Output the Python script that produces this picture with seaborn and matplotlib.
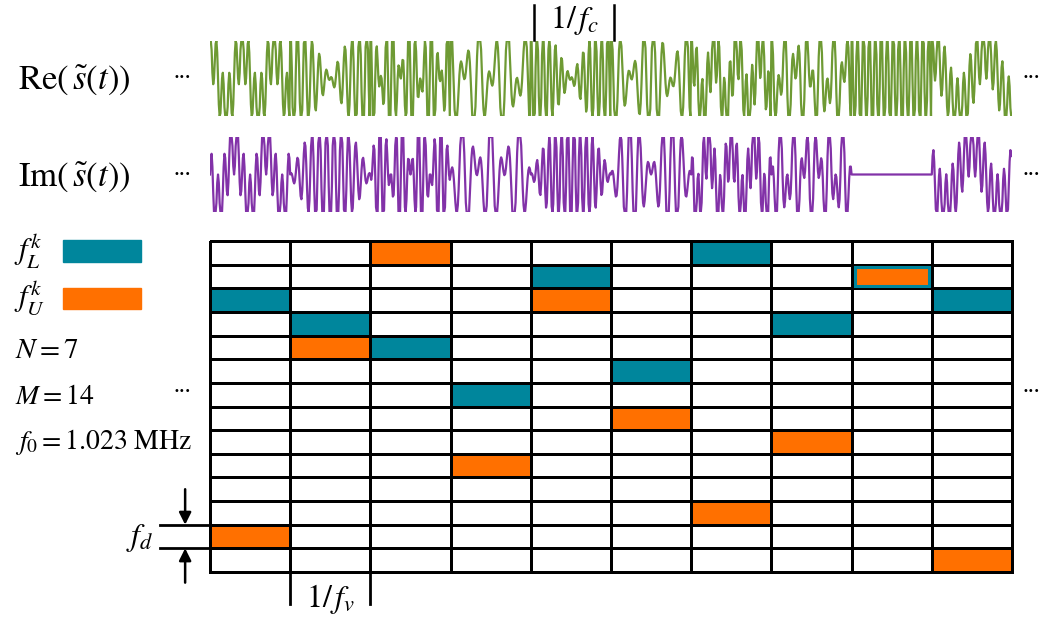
import numpy as np
import seaborn as sns
import matplotlib.pyplot as plt
from matplotlib.colors import ListedColormap
from matplotlib.patches import Rectangle

# Frequency slot (row, 0 = top) used in each of the 10 hop intervals
lower_rows = [2, 3, 4, 6, 1, 5, 0, 3, 1, 2]     # f_L^k
upper_rows = [12, 4, 0, 9, 2, 7, 11, 8, 1, 13]  # f_U^k
n_rows = 14
n_cols = 10
samples_per_col = 100
top_freq = 14.5   # cycles per interval for the top slot
clip_level = 1.25

teal = "#00869C"
orange = "#FF7000"
green = "#6E9A34"
purple = "#8232A8"

W, H = 1051, 619
fig = plt.figure(figsize=(W / 100, H / 100), dpi=100)
plt.rcParams["font.family"] = "Liberation Serif"
plt.rcParams["mathtext.fontset"] = "stix"


def fx(px):
    return px / W


def fy(py):
    return 1 - py / H


# complex signal built from the two slots of each interval
t = np.linspace(0, n_cols, n_cols * samples_per_col, endpoint=False)
k = np.floor(t).astype(int)
tau = t - k
fa = top_freq - np.array(lower_rows)[k]
fb = top_freq - np.array(upper_rows)[k]
s = np.exp(2j * np.pi * fa * tau) + np.exp(-2j * np.pi * fb * tau)
re = np.clip(s.real, -clip_level, clip_level)
im = np.clip(s.imag, -clip_level, clip_level)

left, width = fx(210), fx(1012) - fx(210)

ax_re = fig.add_axes([left, fy(116), width, fy(41) - fy(116)])
sns.lineplot(x=t, y=re, ax=ax_re, color=green, lw=1.6)
ax_im = fig.add_axes([left, fy(212), width, fy(137) - fy(212)])
sns.lineplot(x=t, y=im, ax=ax_im, color=purple, lw=1.6)
for ax in (ax_re, ax_im):
    ax.set_xlim(0, n_cols)
    ax.set_ylim(-clip_level, clip_level)
    ax.axis("off")

# 1/f_c marker above interval 4
for xv in (4.04, 5.04):
    ax_re.plot([xv, xv], [1.3, 2.45], color="black", lw=1.8, clip_on=False)
ax_re.text(4.54, 1.95, r"$1/\,f_c$", ha="center", va="center", fontsize=23)

# time-frequency grid
grid = np.zeros((n_rows, n_cols))
for c in range(n_cols):
    grid[lower_rows[c], c] = 1
    grid[upper_rows[c], c] = 2

ax_g = fig.add_axes([left, fy(572), width, fy(241) - fy(572)])
sns.heatmap(grid, ax=ax_g, cmap=ListedColormap(["white", teal, orange]),
            vmin=0, vmax=2, cbar=False, linewidths=2, linecolor="black",
            xticklabels=False, yticklabels=False)
ax_g.collections[0].set_clip_on(False)
for c in range(n_cols):
    if lower_rows[c] == upper_rows[c]:
        ax_g.add_patch(Rectangle((c + 0.04, lower_rows[c] + 0.1), 0.92, 0.8,
                                 fill=False, edgecolor=teal, lw=2.2))

# 1/f_v marker below interval 1
for xv in (1, 2):
    ax_g.plot([xv, xv], [14, 15.35], color="black", lw=2, clip_on=False)
ax_g.text(1.5, 15.15, r"$1/\,f_v$", ha="center", va="center", fontsize=23)

# f_d marker on slot 12
for yv in (12, 13):
    ax_g.plot([-0.62, 0], [yv, yv], color="black", lw=2, clip_on=False)
ax_g.annotate("", xy=(-0.31, 12), xytext=(-0.31, 10.5),
              arrowprops=dict(arrowstyle="-|>", color="black", lw=1.8,
                              mutation_scale=18, shrinkA=0, shrinkB=0),
              annotation_clip=False)
ax_g.annotate("", xy=(-0.31, 13), xytext=(-0.31, 14.45),
              arrowprops=dict(arrowstyle="-|>", color="black", lw=1.8,
                              mutation_scale=18, shrinkA=0, shrinkB=0),
              annotation_clip=False)
ax_g.text(-0.88, 12.55, r"$f_d$", ha="center", va="center", fontsize=23)

# labels on the left
fig.text(fx(18), fy(80), r"$\mathrm{Re}\left(\,\tilde{s}(t)\right)$",
         ha="left", va="center", fontsize=25)
fig.text(fx(18), fy(177), r"$\mathrm{Im}\left(\,\tilde{s}(t)\right)$",
         ha="left", va="center", fontsize=25)
fig.text(fx(14), fy(250), r"$f_L^k$", ha="left", va="center", fontsize=22)
fig.text(fx(14), fy(298), r"$f_U^k$", ha="left", va="center", fontsize=22)
fig.patches.append(Rectangle((fx(63), fy(262)), fx(141) - fx(63), fy(240) - fy(262),
                             transform=fig.transFigure, color=teal))
fig.patches.append(Rectangle((fx(63), fy(309)), fx(141) - fx(63), fy(288) - fy(309),
                             transform=fig.transFigure, color=orange))
fig.text(fx(15), fy(351), r"$N=7$", ha="left", va="center", fontsize=21)
fig.text(fx(15), fy(397), r"$M=14$", ha="left", va="center", fontsize=20)
fig.text(fx(15), fy(442), r"$f_0=1.023\ \mathrm{MHz}$", ha="left", va="center", fontsize=20)

# continuation dots
for xp, yp in [(182, 78), (182, 175), (182, 393), (1031, 78), (1031, 175), (1031, 393)]:
    fig.text(fx(xp), fy(yp), "···", ha="center", va="center", fontsize=13,
             fontweight="bold")

plt.savefig("out.png", dpi=100)
